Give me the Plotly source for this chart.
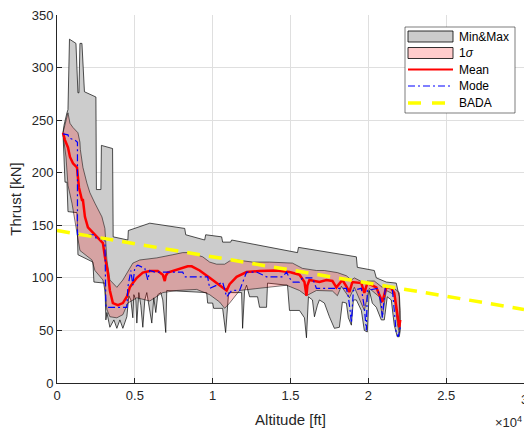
import plotly.graph_objects as go

# ---------------- data (altitude in ft, thrust in kN) ----------------
max_alt = [385, 449, 641, 705, 801, 1218, 1346, 1410, 1474, 1603, 1763, 2500, 2532, 2820, 2852,
           3570, 3609, 4551, 4583, 5961, 8205, 8269, 9487, 9551, 10577, 10641, 11153, 11218,
           15448, 15512, 19230, 19294, 20384, 20512, 21153, 21794, 21986, 22050]
max_thrust = [238, 245, 257, 260, 327, 323, 276, 276, 323, 323, 277, 272, 184, 184, 226,
              223, 139, 136, 145, 152, 147, 141, 136, 141, 139, 134, 134, 136,
              124, 129, 120, 110, 107, 100, 96, 95, 82, 60]

min_alt = [385, 513, 641, 705, 1282, 1346, 2308, 2372, 3077, 3141, 3205, 3397, 3654, 3846, 4038,
           4231, 4487, 4615, 4743, 4872, 4936, 5064, 5128, 5256, 5384, 5513, 5641, 5769, 5897,
           6090, 6218, 6346, 6474, 6666, 6795, 6987, 7051, 9615, 9679, 10000, 10064, 10641,
           10833, 11025, 11859, 11923, 12051, 12179, 12371, 12884, 13012, 13461, 13525, 14807,
           14935, 15576, 15897, 16025, 16153, 16410, 16538, 16730, 16858, 17179, 17499, 17820,
           18140, 18333, 18589, 18717, 18910, 19038, 19230, 19551, 19743, 19935, 20063, 20256,
           20512, 20832, 21025, 21217, 21474, 21666, 21858, 21986, 22050]
min_thrust = [238, 191, 191, 163, 162, 122, 115, 96, 95, 60, 67, 53, 60, 52, 60,
              52, 63, 83, 79, 62, 84, 79, 57, 86, 74, 53, 79, 86, 74,
              57, 81, 67, 84, 86, 79, 48, 88, 86, 76, 76, 71, 71,
              48, 86, 86, 52, 88, 93, 82, 82, 72, 72, 95, 93,
              69, 69, 62, 43, 82, 79, 63, 74, 79, 76, 63, 52,
              53, 77, 76, 62, 55, 79, 79, 69, 50, 48.5, 88, 76,
              72, 60, 60, 82, 79, 55, 44, 44, 50]

sig_up_alt = [385, 513, 705, 833, 1026, 1346, 1474, 1500, 1667, 1923, 2115, 2436, 2885, 3077,
              3109, 3205, 3397, 3846, 4231, 4679, 4872, 5320, 6410, 7436, 8077, 8525, 9359,
              9807, 10256, 10769, 11089, 11538, 12564, 13653, 15128, 15769, 16666, 17179,
              18012, 18589, 18781, 18910, 19102, 19743, 19935, 20384, 20897, 21025, 21666,
              21986, 22050]
sig_up = [238, 247, 257, 247, 243, 238, 229, 222, 205, 190, 181, 171, 158, 147,
          136, 117, 98, 91, 98, 110, 114, 117, 119, 122, 124, 124, 120,
          115, 113, 113, 116, 117, 115, 115, 114, 109, 107, 107,
          105, 102, 99, 98, 100, 95, 97, 97, 91, 93, 90,
          86, 69]

sig_lo_alt = [385, 577, 705, 962, 1282, 1474, 2244, 2436, 2949, 3077, 3205, 3397, 3846, 4231,
              4551, 5128, 5961, 6795, 7692, 8974, 9807, 10448, 10769, 11089, 11730, 13461,
              14743, 15576, 16025, 16666, 17692, 18012, 18269, 18781, 19102, 19743, 20063,
              20704, 20897, 21153, 21666, 21858, 21986, 22050]
sig_lo = [237, 215, 188, 171, 143, 126, 117, 107, 98, 88, 70, 63, 62, 65,
          76, 81, 78, 86, 88, 89, 84, 77, 71, 76, 88, 91,
          93, 88, 83, 88, 87.5, 83, 92, 81, 91, 69, 90,
          82, 63, 88, 84, 57, 47.5, 60]

mean_alt = [385, 513, 705, 833, 1026, 1282, 1410, 1603, 1667, 1795, 1987, 2308, 2628, 2949,
            3077, 3269, 3397, 3590, 3910, 4231, 4487, 4679, 4872, 5128, 5513, 5961, 6474,
            6795, 6923, 6987, 7115, 7884, 8397, 8654, 9166, 9807, 10448, 10897, 11089, 11538,
            12179, 13012, 14102, 14935, 15576, 15897, 16025, 16089, 16217, 16858, 17307, 17692,
            17948, 18333, 18589, 18781, 18974, 19551, 19743, 19935, 20512, 20897, 21153, 21474,
            21666, 21858, 21986, 22050]
mean_thrust = [238, 231, 224, 215, 209, 205, 186, 174, 174, 158, 148, 143, 139, 133,
               120, 105, 88, 76, 74, 76, 82, 91, 95, 100, 105, 106.5, 106.5,
               103, 97, 102, 105, 109, 111, 111, 107, 100, 93, 88, 94, 101,
               105.5, 106.5, 107, 105.5, 103, 96, 83, 93, 98, 96, 98, 97,
               91, 98, 92, 86.5, 96, 95, 85.6, 95, 91, 77, 91, 90,
               85.6, 63, 53, 60]

mode_alt = [385, 705, 769, 1154, 1314, 1314, 2436, 2500, 3077, 3141, 4487, 4551, 4743, 4872,
            5000, 5192, 5641, 5833, 5961, 6282, 8077, 8205, 9679, 9807, 10256, 10641, 10897,
            11218, 11730, 12051, 12179, 12820, 13461, 14487, 14743, 14935, 15128, 15576,
            15769, 16410, 16666, 18589, 18717, 18846, 18910, 19038, 19551, 19743, 19871,
            19935, 20576, 20832, 20897, 21089, 21538, 21666, 21794, 21922, 22050]
mode_thrust = [237, 236, 233, 231, 229, 141, 141, 138, 136, 72, 72, 91, 107, 93,
               110, 112, 109, 98, 107, 105.5, 105.5, 101, 101, 90, 93, 96, 82,
               88, 88, 101, 105.5, 105.5, 101, 101, 105.5, 100, 96, 96,
               100, 100, 90, 90, 82, 67, 57, 88, 90, 72, 50,
               88, 90, 76, 62, 90, 90, 69, 47.5, 44, 53]

bada_alt = [0, 30000]
bada_thrust = [145, 70]

x_tickvals = [0, 5000, 10000, 15000, 20000, 25000]
x_ticktext = ["0", "0.5", "1", "1.5", "2", "2.5"]
x_last_tick = "3"
y_tickvals = [0, 50, 100, 150, 200, 250, 300, 350]

legend_labels = ["Min&amp;Max", "1<i>σ</i>", "Mean", "Mode", "BADA"]

# ---------------- figure ----------------
W, H = 524, 430
ML, MR, MT, MB = 57, 0, 15, 47
PW, PH = W - ML - MR, H - MT - MB


def px_x(px):
    return (px - ML) / PW


def px_y(py):
    return (H - MB - py) / PH


FONT = "Liberation Sans, Arial, Helvetica, sans-serif"
AXC = "#262626"

fig = go.Figure()

fig.add_trace(go.Scatter(
    x=max_alt + min_alt[::-1], y=max_thrust + min_thrust[::-1],
    fill="toself", fillcolor="#cccccc", mode="lines",
    line=dict(color="rgba(0,0,0,0.85)", width=0.8),
    name="Min&Max", showlegend=False, hoverinfo="skip"))

fig.add_trace(go.Scatter(
    x=sig_up_alt + sig_lo_alt[::-1], y=sig_up + sig_lo[::-1],
    fill="toself", fillcolor="rgba(255,0,0,0.2)", mode="lines",
    line=dict(color="rgba(0,0,0,0.75)", width=0.7),
    name="1σ", showlegend=False, hoverinfo="skip"))

fig.add_trace(go.Scatter(
    x=mean_alt, y=mean_thrust, mode="lines",
    line=dict(color="#ff0000", width=2.5), name="Mean", showlegend=False))

fig.add_trace(go.Scatter(
    x=mode_alt, y=mode_thrust, mode="lines",
    line=dict(color="#0000ff", width=1.2, dash="7px,3px,2px,3px"),
    name="Mode", showlegend=False))

fig.add_trace(go.Scatter(
    x=bada_alt, y=bada_thrust, mode="lines",
    line=dict(color="#ffff00", width=3.5, dash="13px,9px"),
    name="BADA", showlegend=False))

# ---------------- custom legend (MATLAB style) ----------------
shapes = []
annotations = []
shapes.append(dict(type="rect", xref="paper", yref="paper", layer="above",
                   x0=px_x(405), x1=px_x(515), y0=px_y(113), y1=px_y(27),
                   fillcolor="white", line=dict(color=AXC, width=0.6)))
row_y = [36.5, 53, 69.5, 86, 103]
shapes.append(dict(type="rect", xref="paper", yref="paper", layer="above",
                   x0=px_x(408), x1=px_x(453), y0=px_y(row_y[0] + 5.5), y1=px_y(row_y[0] - 5.5),
                   fillcolor="#cccccc", line=dict(color="black", width=0.8)))
shapes.append(dict(type="rect", xref="paper", yref="paper", layer="above",
                   x0=px_x(408), x1=px_x(453), y0=px_y(row_y[1] + 5.5), y1=px_y(row_y[1] - 5.5),
                   fillcolor="rgba(255,0,0,0.2)", line=dict(color="black", width=0.8)))
shapes.append(dict(type="line", xref="paper", yref="paper", layer="above",
                   x0=px_x(408), x1=px_x(453), y0=px_y(row_y[2]), y1=px_y(row_y[2]),
                   line=dict(color="#ff0000", width=2)))
shapes.append(dict(type="line", xref="paper", yref="paper", layer="above",
                   x0=px_x(408), x1=px_x(453), y0=px_y(row_y[3]), y1=px_y(row_y[3]),
                   line=dict(color="#0000ff", width=1.1, dash="7px,3px,2px,3px")))
shapes.append(dict(type="line", xref="paper", yref="paper", layer="above",
                   x0=px_x(408), x1=px_x(453), y0=px_y(row_y[4]), y1=px_y(row_y[4]),
                   line=dict(color="#ffff00", width=3.5, dash="13px,11px")))
for lab, ry in zip(legend_labels, row_y):
    annotations.append(dict(xref="paper", yref="paper", x=px_x(457), y=px_y(ry),
                            xanchor="left", yanchor="middle", text=lab, showarrow=False,
                            font=dict(family=FONT, size=12, color="black")))

# last x tick label (partly outside the page, as in the original)
annotations.append(dict(xref="x", yref="paper", x=30000, y=px_y(399),
                        xanchor="center", yanchor="middle", text=x_last_tick,
                        showarrow=False, font=dict(family=FONT, size=13, color=AXC)))

annotations.append(dict(xref="paper", yref="paper", x=1.0, y=px_y(422),
                        xanchor="right", yanchor="middle", text="×10<sup>4</sup>",
                        showarrow=False, font=dict(family=FONT, size=13, color=AXC)))

axis_common = dict(
    showline=True, linecolor=AXC, linewidth=1, mirror=False,
    ticks="inside", ticklen=5, tickwidth=1, tickcolor=AXC,
    showgrid=True, gridcolor="#dfdfdf", gridwidth=1, zeroline=False,
    tickfont=dict(family=FONT, size=13, color=AXC),
)

fig.update_layout(
    width=W, height=H,
    margin=dict(l=ML, r=MR, t=MT, b=MB, pad=0),
    paper_bgcolor="white", plot_bgcolor="white",
    showlegend=False,
    shapes=shapes, annotations=annotations,
    xaxis=dict(range=[0, 30000], tickvals=x_tickvals, ticktext=x_ticktext,
               title=dict(text="Altitude [ft]", font=dict(family=FONT, size=15, color=AXC), standoff=12),
               automargin=False, **axis_common),
    yaxis=dict(range=[0, 350], tickvals=y_tickvals,
               title=dict(text="Thrust [kN]", font=dict(family=FONT, size=15, color=AXC), standoff=6),
               automargin=False, **axis_common),
)

fig.write_html(
    "out.html",
    config={"displayModeBar": False},
    post_script="document.body.style.margin='0';document.body.style.overflow='hidden';",
)
